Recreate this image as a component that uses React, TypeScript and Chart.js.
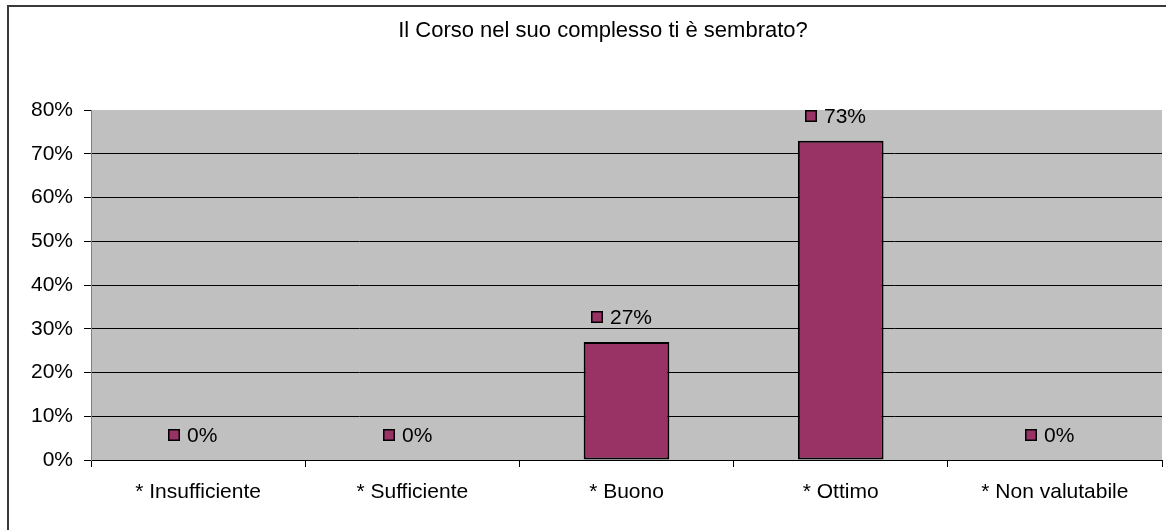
import React, { useEffect, useRef } from "react";
import { Chart, registerables } from "chart.js";

Chart.register(...registerables);

const TITLE = "Il Corso nel suo complesso ti è sembrato?";
const categories = ["* Insufficiente", "* Sufficiente", "* Buono", "* Ottimo", "* Non valutabile"];
const percentValues = [0, 0, 27, 73, 0];
const yTickMax = 80;
const yTickStep = 10;

const FONT = "'Liberation Sans', Arial, sans-serif";
const BAR_COLOR = "#993366";

const plotBg = {
  id: "plotBg",
  beforeDraw(chart: any) {
    const { ctx, chartArea } = chart;
    ctx.save();
    ctx.fillStyle = "#C0C0C0";
    ctx.fillRect(chartArea.left, chartArea.top, chartArea.right - chartArea.left, chartArea.bottom - chartArea.top);
    ctx.restore();
  },
  afterDraw(chart: any) {
    const { ctx } = chart;
    ctx.save();
    ctx.strokeStyle = "#3a3a3a";
    ctx.lineWidth = 2;
    ctx.strokeRect(8, 6, chart.width + 20, chart.height + 20);
    // title, centred on the (wider) chart object whose frame runs past the picture
    ctx.fillStyle = "#000";
    ctx.font = `22px ${FONT}`;
    ctx.textAlign = "center";
    ctx.textBaseline = "alphabetic";
    ctx.fillText(TITLE, 603, 37);
    ctx.restore();
  },
};

const dataLabels = {
  id: "dataLabels",
  afterDatasetsDraw(chart: any) {
    const { ctx } = chart;
    const meta = chart.getDatasetMeta(0);
    const data = chart.data.datasets[0].data;
    ctx.save();
    ctx.font = `21px ${FONT}`;
    ctx.textBaseline = "middle";
    ctx.textAlign = "left";
    meta.data.forEach((el: any, i: number) => {
      const text = `${data[i]}%`;
      const w = ctx.measureText(text).width;
      const sq = 12;
      const gap = 7;
      const gw = sq + gap + w;
      const left = Math.round(el.x - gw / 2 - 5);
      const yc = Math.round(el.y - 25);
      ctx.fillStyle = BAR_COLOR;
      ctx.fillRect(left, yc - sq / 2, sq, sq);
      ctx.strokeStyle = "#000";
      ctx.lineWidth = 1.5;
      ctx.strokeRect(left + 0.75, yc - sq / 2 + 0.75, sq - 1.5, sq - 1.5);
      ctx.fillStyle = "#000";
      ctx.fillText(text, left + sq + gap, yc + 1);
    });
    ctx.restore();
  },
};

export default function App() {
  const ref = useRef<HTMLCanvasElement>(null);
  useEffect(() => {
    if (!ref.current) return;
    const chart = new Chart(ref.current, {
      type: "bar",
      data: {
        labels: categories,
        datasets: [
          {
            data: percentValues,
            backgroundColor: BAR_COLOR,
            borderColor: "#000",
            borderWidth: 2,
            borderSkipped: false,
            barPercentage: 0.4,
            categoryPercentage: 1,
          },
        ],
      },
      options: {
        animation: false,
        responsive: false,
        layout: { padding: { left: 0, right: 4, top: 110, bottom: 0 } },
        plugins: {
          legend: { display: false },
          tooltip: { enabled: false },
          title: { display: false },
        },
        scales: {
          x: {
            grid: {
              display: true,
              drawOnChartArea: false,
              drawTicks: true,
              tickLength: 7,
              offset: true,
              color: "#000",
            },
            border: { display: true, color: "#000", width: 1 },
            ticks: {
              color: "#000",
              padding: 13,
              maxRotation: 0,
              font: { family: FONT, size: 21 },
            },
            afterFit(scale: any) {
              scale.height = 70;
            },
          },
          y: {
            min: 0,
            max: yTickMax,
            grid: {
              color: (c: any) => (c.tick && c.tick.value === yTickMax ? "rgba(0,0,0,0)" : "#000"),
              tickColor: "#000",
              tickLength: 7,
            },
            border: { display: true, color: "#808080", width: 1 },
            ticks: {
              stepSize: yTickStep,
              color: "#000",
              padding: 11,
              font: { family: FONT, size: 21 },
              callback: (v: any) => `${v}%`,
            },
            afterFit(scale: any) {
              scale.width = 91;
            },
          },
        },
      },
      plugins: [plotBg, dataLabels],
    });
    return () => chart.destroy();
  }, []);
  return (
    <div style={{ position: "fixed", left: 0, top: 0, width: 1166, height: 530, background: "#fff" }}>
      <canvas ref={ref} width={1166} height={530} />
    </div>
  );
}
